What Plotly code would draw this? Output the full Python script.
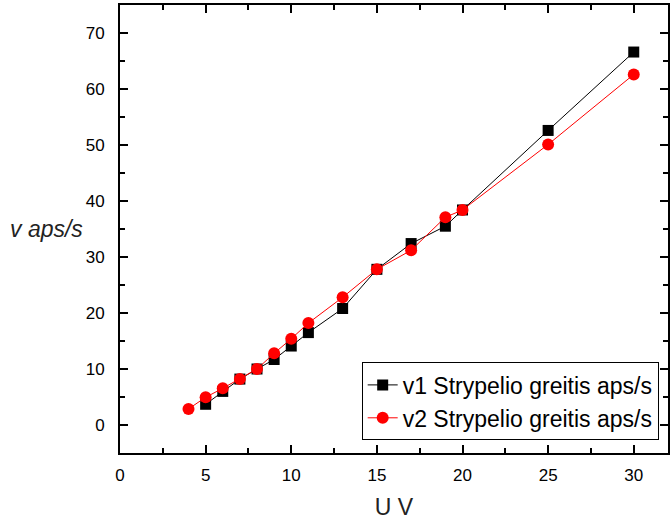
import plotly.graph_objects as go

# Measured speeds (aps/s) versus voltage U (V)
u1 = [5, 6, 7, 8, 9, 10, 11, 13, 15, 17, 19, 20, 25, 30]
v1 = [3.7, 6.0, 8.2, 10.0, 11.7, 14.1, 16.5, 20.8, 27.8, 32.4, 35.5, 38.4, 52.6, 66.6]

u2 = [4, 5, 6, 7, 8, 9, 10, 11, 13, 15, 17, 19, 20, 25, 30]
v2 = [2.86, 4.95, 6.55, 8.2, 10.0, 12.8, 15.4, 18.2, 22.8, 27.8, 31.2, 37.1, 38.4, 50.1, 62.6]

name1 = "v1 Strypelio greitis aps/s"
name2 = "v2 Strypelio greitis aps/s"

x_ticks = [0, 5, 10, 15, 20, 25, 30]
y_ticks = [0, 10, 20, 30, 40, 50, 60, 70]

FONT = "Liberation Sans, Arial, sans-serif"

fig = go.Figure()
fig.add_trace(go.Scatter(
    x=u1, y=v1, name=name1, mode="lines+markers",
    line=dict(color="black", width=1),
    marker=dict(symbol="square", size=11, color="black"),
))
fig.add_trace(go.Scatter(
    x=u2, y=v2, name=name2, mode="lines+markers",
    line=dict(color="red", width=1),
    marker=dict(symbol="circle", size=12, color="red"),
))

axis_common = dict(
    showline=True, linecolor="black", linewidth=2, mirror="ticks",
    ticks="inside", ticklen=8, tickwidth=2, tickcolor="black",
    showgrid=False, zeroline=False,
    tickfont=dict(family=FONT, size=17, color="black"),
)

fig.update_xaxes(
    range=[0, 32], tickvals=x_ticks,
    minor=dict(dtick=2.5, tick0=0, ticks="inside", ticklen=5, tickwidth=1.5, tickcolor="black"),
    ticklabelstandoff=6,
    title=dict(text="U V", font=dict(family=FONT, size=23, color="#222"), standoff=18),
    **axis_common,
)
fig.update_yaxes(
    range=[-5, 75], tickvals=y_ticks,
    minor=dict(dtick=5, tick0=0, ticks="inside", ticklen=5, tickwidth=1.5, tickcolor="black"),
    ticklabelstandoff=10,
    **axis_common,
)

fig.add_annotation(
    text="<i>v aps/s</i>", xref="paper", yref="paper",
    x=-0.135, y=0.5, xanchor="center", yanchor="middle", showarrow=False,
    font=dict(family=FONT, size=23, color="#222"),
)

fig.update_layout(
    width=670, height=520,
    margin=dict(l=120, r=0, t=5, b=66),
    paper_bgcolor="white", plot_bgcolor="white",
    showlegend=True,
    legend=dict(
        x=0.983, y=0.028, xanchor="right", yanchor="bottom",
        bgcolor="white", bordercolor="black", borderwidth=1,
        font=dict(family=FONT, size=23, color="black"),
        tracegroupgap=0,
    ),
)

fig.write_html("out.html")
